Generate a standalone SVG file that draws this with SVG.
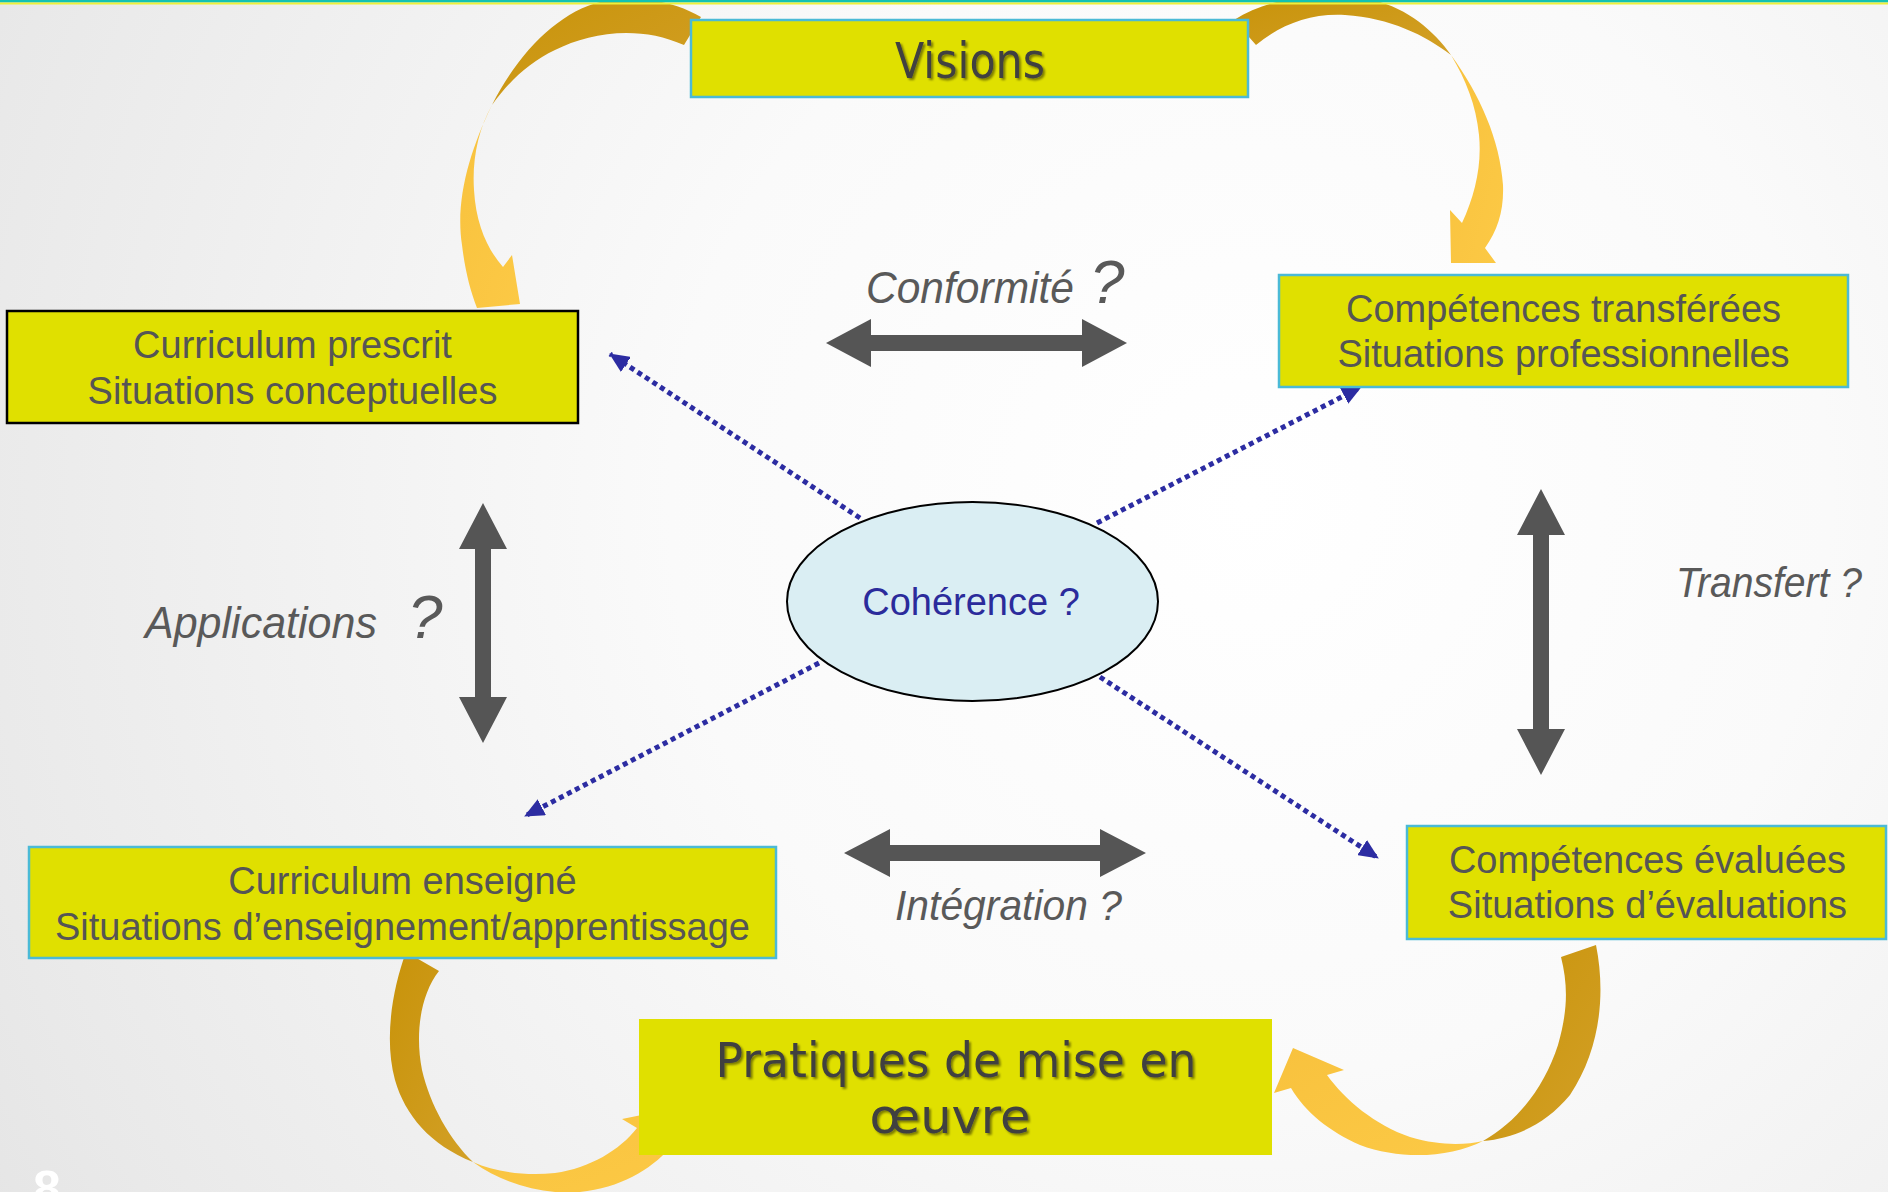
<svg xmlns="http://www.w3.org/2000/svg" width="1888" height="1192" viewBox="0 0 1888 1192">
<defs>
<style>
.box{fill:#E0E000;stroke:#4BBAD6;stroke-width:2.5}
.boxtxt{font-family:"Liberation Sans",Arial,sans-serif;font-size:38px;fill:#555555;text-anchor:middle}
.title{font-family:"DejaVu Sans","Liberation Sans",sans-serif;fill:#404040;text-anchor:middle}
.lbl{font-family:"Liberation Sans",Arial,sans-serif;font-style:italic;fill:#595959}
.dbl{fill:#555555}
.dot{fill:none;stroke:#2C2CA2;stroke-width:5;stroke-dasharray:5 4}
.dark{fill:url(#gDark)}
.light{fill:url(#gLight)}
</style>
<radialGradient id="bg" gradientUnits="userSpaceOnUse" cx="1250" cy="500" r="1450">
<stop offset="0" stop-color="#FFFFFF"/>
<stop offset="0.4" stop-color="#FAFAFA"/>
<stop offset="0.9" stop-color="#E9E9E9"/>
<stop offset="1" stop-color="#E5E5E5"/>
</radialGradient>
<linearGradient id="gDark" x1="0" y1="0" x2="1" y2="1">
<stop offset="0" stop-color="#C8930A"/>
<stop offset="1" stop-color="#D3A026"/>
</linearGradient>
<linearGradient id="gLight" x1="0" y1="0" x2="1" y2="1">
<stop offset="0" stop-color="#F8C23E"/>
<stop offset="1" stop-color="#FCC945"/>
</linearGradient>
<filter id="shadow" x="-10%" y="-20%" width="120%" height="150%">
<feDropShadow dx="2" dy="2" stdDeviation="1.3" flood-color="#000000" flood-opacity="0.45"/>
</filter>
<marker id="ah" viewBox="0 0 20 18" refX="19" refY="9" markerWidth="20" markerHeight="18" markerUnits="userSpaceOnUse" orient="auto">
<path d="M0,0 L20,9 L0,18 Z" fill="#2C2CA2"/>
</marker>
</defs>

<rect x="0" y="0" width="1888" height="1192" fill="url(#bg)"/>

<g id="curved-arrows">
<g id="arrow-tl">
<path class="dark" d="M701,17 C675,2 640,-6 600,2 C560,12 520,50 492,105 C510,80 530,62 555,50 C590,32 640,25 684,45 Z"/>
<path class="light" d="M492,105 C470,150 455,200 462,245 C465,270 470,290 477,308 L520,304 L512,255 L503,267 C488,250 476,225 474,190 C472,160 478,130 492,105 Z"/>
</g>
<g id="arrow-tr">
<path class="dark" d="M1234,20 C1265,0 1305,-6 1345,-4 C1395,-2 1430,25 1451,55 C1425,35 1390,18 1345,15 C1310,13 1280,25 1256,45 Z"/>
<path class="light" d="M1451,55 C1480,95 1500,140 1503,185 C1504,210 1498,230 1485,248 L1496,263 L1451,263 L1450,210 L1462,223 C1475,195 1482,165 1479,135 C1476,105 1466,80 1451,55 Z"/>
</g>
<g id="arrow-br">
<path class="dark" d="M1596,945 C1606,995 1600,1050 1570,1095 C1545,1125 1515,1138 1483,1141 C1520,1120 1545,1085 1558,1045 C1568,1010 1568,985 1561,957 Z"/>
<path class="light" d="M1483,1141 C1450,1158 1400,1160 1360,1145 C1330,1132 1305,1112 1291,1088 L1274,1093 L1293,1048 L1344,1070 L1327,1075 C1345,1100 1375,1125 1410,1137 C1440,1146 1465,1145 1483,1141 Z"/>
</g>
<g id="arrow-bl">
<path class="dark" d="M406,952 C392,990 384,1040 395,1080 C405,1115 430,1145 473,1162 C450,1140 430,1105 422,1070 C415,1035 420,995 439,971 Z"/>
<path class="light" d="M473,1162 C505,1185 545,1195 580,1192 C620,1188 650,1170 670,1148 L684,1155 L676,1108 L622,1119 L637,1128 C620,1150 590,1168 555,1173 C525,1176 495,1172 473,1162 Z"/>
</g>
</g>

<g id="connectors">
<line class="dot" x1="860" y1="518" x2="610" y2="354" marker-end="url(#ah)"/>
<line class="dot" x1="1097" y1="523" x2="1361" y2="387" marker-end="url(#ah)"/>
<line class="dot" x1="819" y1="663" x2="525" y2="816" marker-end="url(#ah)"/>
<line class="dot" x1="1100" y1="677" x2="1378" y2="858" marker-end="url(#ah)"/>
<polygon class="dbl" points="826,343 871,319 871,335 1082,335 1082,319 1127,343 1082,367 1082,351 871,351 871,367"/>
<polygon class="dbl" points="844,853 890,829 890,845 1100,845 1100,829 1146,853 1100,877 1100,861 890,861 890,877"/>
<polygon class="dbl" points="483,503 507,549 491,549 491,697 507,697 483,743 459,697 475,697 475,549 459,549"/>
<polygon class="dbl" points="1541,489 1565,535 1549,535 1549,729 1565,729 1541,775 1517,729 1533,729 1533,535 1517,535"/>
</g>

<g id="labels">
<text class="lbl" x="866" y="303" font-size="44" textLength="208" lengthAdjust="spacingAndGlyphs">Conformité</text>
<text class="lbl" x="1090" y="303" font-size="62">?</text>
<text class="lbl" x="145" y="638" font-size="44" textLength="232" lengthAdjust="spacingAndGlyphs">Applications</text>
<text class="lbl" x="408" y="638" font-size="62">?</text>
<text class="lbl" x="1676" y="597" font-size="42" textLength="186" lengthAdjust="spacingAndGlyphs">Transfert ?</text>
<text class="lbl" x="895" y="920" font-size="42" textLength="227" lengthAdjust="spacingAndGlyphs">Intégration ?</text>
</g>

<g id="node-visions">
<rect class="box" x="691" y="20" width="557" height="77"/>
<text class="title" x="970" y="78" font-size="49" textLength="150" lengthAdjust="spacingAndGlyphs" filter="url(#shadow)">Visions</text>
</g>

<g id="node-curriculum-prescrit">
<rect x="7" y="311" width="571" height="112" fill="#E0E000" stroke="#000000" stroke-width="2.5"/>
<text class="boxtxt" x="292.5" y="358">Curriculum prescrit</text>
<text class="boxtxt" x="292.5" y="404">Situations conceptuelles</text>
</g>

<g id="node-competences-transferees">
<rect class="box" x="1279" y="275" width="569" height="112"/>
<text class="boxtxt" x="1563.5" y="322">Compétences transférées</text>
<text class="boxtxt" x="1563.5" y="367">Situations professionnelles</text>
</g>

<g id="node-curriculum-enseigne">
<rect class="box" x="29" y="847" width="747" height="111"/>
<text class="boxtxt" x="402.5" y="894">Curriculum enseigné</text>
<text class="boxtxt" x="402.5" y="940">Situations d’enseignement/apprentissage</text>
</g>

<g id="node-competences-evaluees">
<rect class="box" x="1407" y="826" width="479" height="113"/>
<text class="boxtxt" x="1647.5" y="873">Compétences évaluées</text>
<text class="boxtxt" x="1647.5" y="918">Situations d’évaluations</text>
</g>

<g id="node-pratiques">
<rect x="639" y="1019" width="633" height="136" fill="#E0E000"/>
<text class="title" x="956" y="1077" font-size="48" textLength="481" lengthAdjust="spacingAndGlyphs" filter="url(#shadow)">Pratiques de mise en</text>
<text class="title" x="950" y="1133" font-size="48" textLength="161" lengthAdjust="spacingAndGlyphs" filter="url(#shadow)">œuvre</text>
</g>

<g id="node-coherence">
<ellipse cx="972.5" cy="601.5" rx="185.5" ry="99.5" fill="#DAEEF3" stroke="#000000" stroke-width="2"/>
<text x="971" y="615" font-family="Liberation Sans, Arial, sans-serif" font-size="38" fill="#2B2B9B" text-anchor="middle">Cohérence ?</text>
</g>

<text x="33" y="1206" font-family="Liberation Sans, Arial, sans-serif" font-size="50" font-weight="bold" fill="#FFFFFF">8</text>

<rect x="0" y="0" width="1888" height="2.5" fill="#13C1B3"/>
<rect x="0" y="2.5" width="1888" height="2" fill="#EEF03A"/>
</svg>
